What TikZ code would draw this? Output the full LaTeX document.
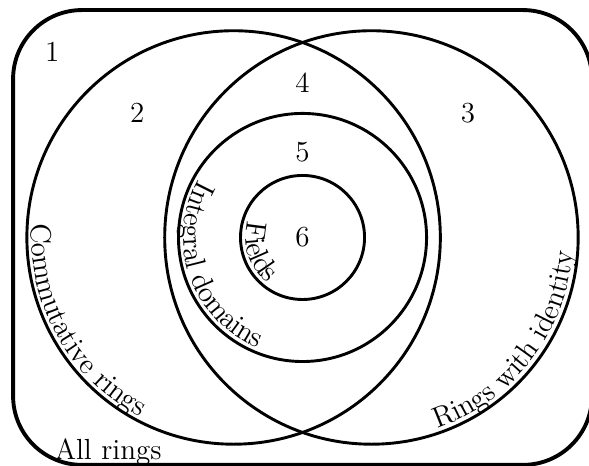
\documentclass[tikz,border=0pt]{standalone}
\usepackage{tikz}
\usetikzlibrary{decorations.text}

\begin{document}
\begin{tikzpicture}[
    ring/.style={very thick},
    lbl/.style={font=\large},
    curved/.style={decorate,decoration={text along path,text={|\large|#1},raise=2pt}}]
  \useasboundingbox (-4.39,-3.315) rectangle (4.157,3.446);
  \coordinate (cl) at (-1,0);
  \coordinate (cr) at (1,0);
  \coordinate (o) at (0,0);
  % all rings
  \draw[ultra thick,rounded corners=1cm] (-4.2,-3.3) rectangle (4.2,3.3);
  % the circles
  \draw[ring] (cl) circle[radius=3];
  \draw[ring] (cr) circle[radius=3];
  \draw[ring] (o) circle[radius=1.8];
  \draw[ring] (o) circle[radius=0.9];
  % names along the circles
  \path[curved=Commutative rings] (cl) ++(176:3) arc[start angle=176,end angle=265,radius=3];
  \path[curved=Rings with identity] (cr) ++(-71:3) arc[start angle=-71,end angle=15,radius=3];
  \path[curved=Integral domains] (o) ++(151:1.8) arc[start angle=151,end angle=275,radius=1.8];
  \path[curved=Fields] (o) ++(164:0.9) arc[start angle=164,end angle=265,radius=0.9];
  \node[lbl,anchor=base] (all) at (-2.82,-3.22) {All rings};
  % regions
  \node[lbl] (r1) at (-3.63,2.69) {1};
  \node[lbl] (r2) at (-2.4,1.81) {2};
  \node[lbl] (r3) at (2.4,1.81) {3};
  \node[lbl] (r4) at (0,2.25) {4};
  \node[lbl] (r5) at (0,1.24) {5};
  \node[lbl] (r6) at (0,0) {6};
\end{tikzpicture}
\end{document}
